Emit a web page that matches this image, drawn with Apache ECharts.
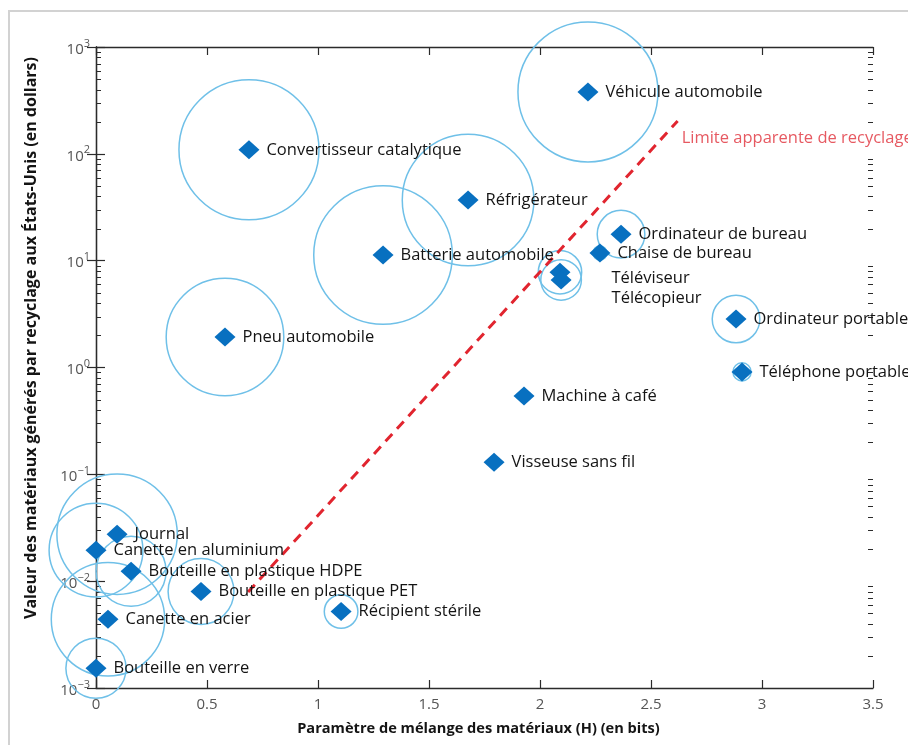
<!DOCTYPE html>
<html>
<head>
<meta charset="utf-8">
<script src="https://cdn.jsdelivr.net/npm/echarts@6/dist/echarts.min.js"></script>
<style>
  html, body { margin: 0; padding: 0; background: #ffffff; }
  #chart { width: 908px; height: 745px; }
</style>
</head>
<body>
<div id="chart"></div>
<script>
// Produits recyclés : paramètre de mélange H (bits) et valeur des matériaux ($)
const produits = [
  'Véhicule automobile', 'Convertisseur catalytique', 'Réfrigérateur',
  'Ordinateur de bureau', 'Chaise de bureau', 'Batterie automobile',
  'Téléviseur', 'Télécopieur', 'Ordinateur portable', 'Pneu automobile',
  'Téléphone portable', 'Machine à café', 'Visseuse sans fil', 'Journal',
  'Canette en aluminium', 'Bouteille en plastique HDPE',
  'Bouteille en plastique PET', 'Récipient stérile', 'Canette en acier',
  'Bouteille en verre'
];
const melangeH = [
  2.216, 0.689, 1.676,
  2.365, 2.270, 1.293,
  2.090, 2.095, 2.883, 0.581,
  2.910, 1.928, 1.793, 0.095,
  0.000, 0.158,
  0.473, 1.104, 0.054,
  0.000
];
const valeurDollars = [
  380, 109, 37,
  17.7, 11.8, 11.3,
  7.8, 6.6, 2.84, 1.93,
  0.91, 0.54, 0.13, 0.0275,
  0.0195, 0.0124,
  0.0080, 0.0052, 0.0044,
  0.00153
];
// Ampleur relative du cercle entourant chaque produit (1 = le plus grand)
const ampleurCercle = [
  1.00, 1.00, 0.94,
  0.34, 0.10, 0.99,
  0.31, 0.29, 0.34, 0.84,
  0.13, 0.00, 0.00, 0.86,
  0.67, 0.50,
  0.47, 0.24, 0.81,
  0.43
];

// Limite apparente de recyclage (deux extrémités du segment)
const limiteH = [0.685, 2.62];
const limiteValeur = [0.0079, 203];
const limiteTexte = 'Limite apparente de recyclage';

// Graduations de l'axe horizontal
const ticksH = [0, 0.5, 1, 1.5, 2, 2.5, 3, 3.5];

const FONT = '"Open Sans", "Noto Sans", sans-serif';
const DIAM_MAX = 140;

// Graduations secondaires logarithmiques (2..9 × 10^k)
const mineures = [];
for (let k = -3; k < 3; k++) {
  for (let m = 2; m <= 9; m++) mineures.push([0, m * Math.pow(10, k)]);
}

// Décalages des étiquettes superposées (téléviseur / télécopieur)
const labelSpecial = {
  'Téléviseur': { distance: 41, offset: [0, 6] },
  'Télécopieur': { distance: 40, offset: [0, 18] }
};

const pointsData = produits.map((nom, i) => {
  const item = { name: nom, value: [melangeH[i], valeurDollars[i], ampleurCercle[i]] };
  if (labelSpecial[nom]) item.label = labelSpecial[nom];
  return item;
});

const cerclesData = produits
  .map((nom, i) => ({ name: nom, value: [melangeH[i], valeurDollars[i], ampleurCercle[i]] }))
  .filter(d => d.value[2] > 0);

const limiteData = limiteH.map((h, i) => [h, limiteValeur[i]]);

function expo(v) {
  const e = Math.round(Math.log10(v));
  return '{b|10}{e|' + String(e).replace('-', '−') + '}';
}

const axeLigne = { show: true, lineStyle: { color: '#2b2b2b', width: 1.3 } };
const axeTick = { show: true, inside: true, length: 8, lineStyle: { color: '#2b2b2b', width: 1.2 } };

const chart = echarts.init(document.getElementById('chart'), null, { renderer: 'canvas' });

chart.setOption({
  animation: false,
  backgroundColor: '#ffffff',
  grid: { left: 96, right: 35, top: 47, bottom: 57, containLabel: false },
  graphic: [
    {
      type: 'rect', z: -10, silent: true,
      shape: { x: 9, y: 11, width: 1200, height: 1000 },
      style: { fill: 'none', stroke: '#d2d2d2', lineWidth: 2 }
    },
    {
      type: 'text', silent: true,
      x: 31, y: 338, rotation: Math.PI / 2,
      style: {
        text: 'Valeur des matériaux générés par recyclage aux États-Unis (en dollars)',
        font: 'bold 16px ' + FONT, fill: '#141414',
        align: 'center', verticalAlign: 'middle'
      }
    }
  ],
  xAxis: [
    {
      type: 'value', position: 'bottom',
      min: ticksH[0], max: ticksH[ticksH.length - 1], interval: 0.5,
      axisLine: axeLigne,
      axisTick: axeTick,
      axisLabel: { color: '#555555', fontSize: 15, fontFamily: FONT, margin: 9, formatter: v => String(v) },
      splitLine: { show: false },
      name: 'Paramètre de mélange des matériaux (H) (en bits)',
      nameLocation: 'middle', nameGap: 33,
      nameTextStyle: {
        color: '#141414', fontSize: 14.6, fontWeight: 'bold', fontFamily: FONT,
        padding: [0, 12, 0, 0]
      }
    },
    {
      type: 'value', position: 'top',
      min: ticksH[0], max: ticksH[ticksH.length - 1], interval: 0.5,
      axisLine: axeLigne,
      axisTick: axeTick,
      axisLabel: { show: false },
      splitLine: { show: false }
    }
  ],
  yAxis: [
    {
      type: 'log', logBase: 10, min: 0.001, max: 1000, interval: 1,
      position: 'left',
      axisLine: axeLigne,
      axisTick: { show: true, inside: true, length: 9, lineStyle: { color: '#2b2b2b', width: 1.2 } },
      axisLabel: {
        margin: 6, formatter: expo,
        rich: {
          b: { fontSize: 15, color: '#555555', fontFamily: FONT, verticalAlign: 'bottom', lineHeight: 20 },
          e: { fontSize: 11, color: '#555555', fontFamily: FONT, verticalAlign: 'bottom', padding: [0, 0, 8, 0], lineHeight: 20 }
        }
      },
      splitLine: { show: false }
    },
    {
      type: 'log', logBase: 10, min: 0.001, max: 1000, interval: 1,
      position: 'right',
      axisLine: axeLigne,
      axisTick: { show: true, inside: true, length: 9, lineStyle: { color: '#2b2b2b', width: 1.2 } },
      axisLabel: { show: false },
      splitLine: { show: false }
    }
  ],
  series: [
    {
      // Graduations secondaires sur les bords gauche et droit
      type: 'custom', silent: true, clip: false, z: 1,
      xAxisIndex: 0, yAxisIndex: 0,
      data: mineures,
      renderItem: function (params, api) {
        const cs = params.coordSys;
        const y = Math.round(api.coord([0, api.value(1)])[1]) + 0.5;
        const st = { stroke: '#2b2b2b', lineWidth: 1 };
        return {
          type: 'group',
          children: [
            { type: 'line', shape: { x1: cs.x, y1: y, x2: cs.x + 5, y2: y }, style: st },
            { type: 'line', shape: { x1: cs.x + cs.width, y1: y, x2: cs.x + cs.width - 5, y2: y }, style: st }
          ]
        };
      }
    },
    {
      // Cercles autour des produits
      type: 'scatter', silent: true, clip: false, z: 2,
      data: cerclesData,
      symbol: 'circle',
      symbolSize: v => v[2] * DIAM_MAX,
      itemStyle: { color: 'rgba(255,255,255,0)', borderColor: '#6fc0e8', borderWidth: 1.5, opacity: 1 }
    },
    {
      // Limite apparente de recyclage
      type: 'line', silent: true, z: 3,
      data: limiteData,
      symbol: 'none',
      lineStyle: { color: '#e1252f', width: 3, type: [10, 7] }
    },
    {
      type: 'scatter', silent: true, z: 3,
      data: [limiteData[limiteData.length - 1]],
      symbolSize: 0,
      label: {
        show: true, position: 'right', distance: 4, offset: [0, 17],
        formatter: limiteTexte, color: '#e0303a', fontSize: 16.5, fontFamily: FONT
      }
    },
    {
      // Produits
      type: 'scatter', clip: false, z: 5,
      data: pointsData,
      symbol: 'diamond',
      symbolSize: [21, 19],
      itemStyle: { color: '#0870c0', opacity: 1 },
      label: {
        show: true, position: 'right', distance: 7,
        formatter: '{b}', color: '#141414', fontSize: 16.5, fontFamily: FONT
      }
    }
  ]
});
</script>
</body>
</html>
